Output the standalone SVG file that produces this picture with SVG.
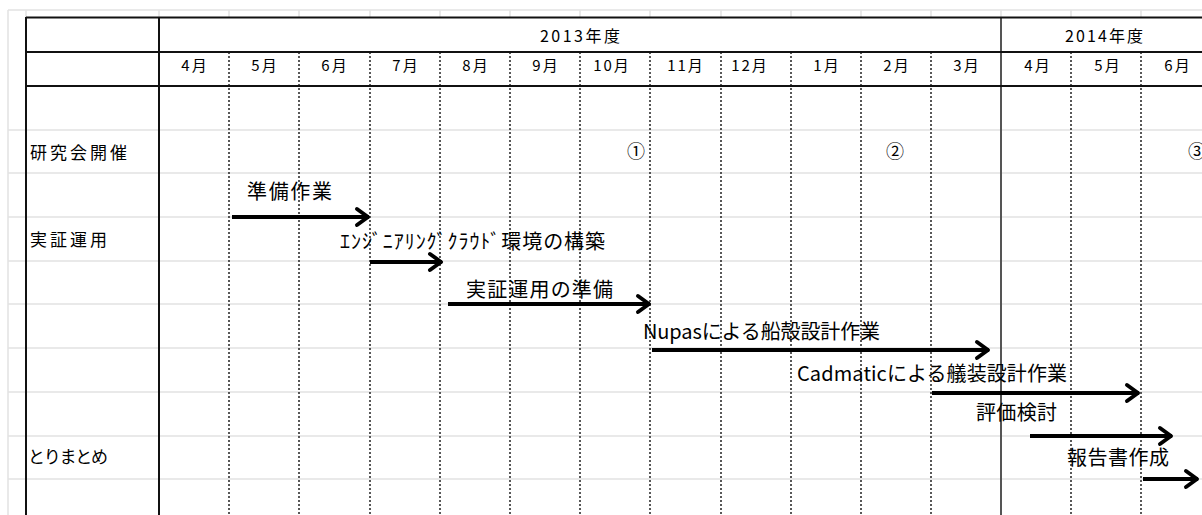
<svg xmlns="http://www.w3.org/2000/svg" width="1202" height="515" viewBox="0 0 1202 515">
<style>
.grid{stroke:#e2e2e2;stroke-width:1.5;fill:none}
.heavy{stroke:#111;stroke-width:2;fill:none}
.dot{stroke:#222;stroke-width:1.5;stroke-dasharray:2 2;fill:none}
.yr{stroke:#555;stroke-width:2;fill:none}
.arr{stroke:#000;stroke-width:4;fill:none;marker-end:url(#ah)}
text{font-family:"Noto Sans CJK JP","Noto Sans",sans-serif;fill:#000}
.hd{font-size:16px}
.mo{font-size:15px;letter-spacing:2px;text-anchor:middle}
.lb{font-size:17px}
.tk{font-size:20px}
.cn{font-size:18px;text-anchor:middle}
</style>
<defs>
<marker id="ah" markerUnits="userSpaceOnUse" markerWidth="30" markerHeight="30" refX="0" refY="0" orient="auto" overflow="visible">
<path d="M-12,-8 L-1,0 L-12,8" fill="none" stroke="#000" stroke-width="4" stroke-linejoin="round" stroke-linecap="round"/>
</marker>
</defs>
<rect width="1202" height="515" fill="#fff"/>
<g id="gridlines">
<path class="grid" d="M8,10H1202 M8,130H1202 M8,173H1202 M8,217H1202 M8,261H1202 M8,304H1202 M8,348H1202 M8,392H1202 M8,436H1202 M8,479H1202"/>
<path class="grid" d="M8,10V515 M26,10V17 M159,10V17 M229,10V17 M299,10V17 M370,10V17 M440,10V17 M510,10V17 M580,10V17 M650,10V17 M721,10V17 M791,10V17 M861,10V17 M931,10V17 M1001,10V17 M1071,10V17 M1141,10V17"/>
</g>
<g id="table">
<path class="dot" d="M229,52V515 M299,52V515 M370,52V515 M440,52V515 M510,52V515 M580,52V515 M650,52V515 M721,52V515 M791,52V515 M861,52V515 M931,52V515 M1071,52V515 M1141,52V515"/>
<path class="yr" d="M1001,17V515"/>
<path class="heavy" d="M26,17.5H1202 M26,52H1202 M26,86H1202 M26,17V515 M159,17V515"/>
</g>
<g id="header">
<text class="hd" x="540" y="42" textLength="80">2013年度</text>
<text class="hd" x="1065" y="42" textLength="78">2014年度</text>
<text class="mo" x="195" y="71">4月</text>
<text class="mo" x="265" y="71">5月</text>
<text class="mo" x="335" y="71">6月</text>
<text class="mo" x="406" y="71">7月</text>
<text class="mo" x="476" y="71">8月</text>
<text class="mo" x="546" y="71">9月</text>
<text class="mo" x="612" y="71">10月</text>
<text class="mo" x="686" y="71">11月</text>
<text class="mo" x="750" y="71">12月</text>
<text class="mo" x="827" y="71">1月</text>
<text class="mo" x="897" y="71">2月</text>
<text class="mo" x="967" y="71">3月</text>
<text class="mo" x="1038" y="71">4月</text>
<text class="mo" x="1108" y="71">5月</text>
<text class="mo" x="1178" y="71">6月</text>
</g>
<g id="row-labels">
<text class="lb" x="30" y="159" textLength="97">研究会開催</text>
<text class="lb" x="30" y="246" textLength="77">実証運用</text>
<text class="lb" x="28" y="463" textLength="80">とりまとめ</text>
</g>
<g id="meetings">
<text class="cn" x="636" y="158">①</text>
<text class="cn" x="895" y="158">②</text>
<text class="cn" x="1197" y="158">③</text>
</g>
<g id="connectors">
<line class="arr" x1="232" y1="217" x2="369" y2="217"/>
<line class="arr" x1="370" y1="262" x2="442" y2="262"/>
<line class="arr" x1="448" y1="304" x2="650" y2="304"/>
<line class="arr" x1="652" y1="350" x2="989" y2="350"/>
<line class="arr" x1="932" y1="393" x2="1139" y2="393"/>
<line class="arr" x1="1030" y1="436" x2="1172" y2="436"/>
<line class="arr" x1="1143" y1="479" x2="1198" y2="479"/>
</g>
<g id="tasks">
<text class="tk" x="247" y="199" textLength="85">準備作業</text>
<text class="tk" x="340" y="249" textLength="265">ｴﾝｼﾞﾆｱﾘﾝｸﾞｸﾗｳﾄﾞ環境の構築</text>
<text class="tk" x="466" y="297" textLength="147">実証運用の準備</text>
<text class="tk" x="643" y="339" textLength="237">Nupasによる船殻設計作業</text>
<text class="tk" x="797" y="381" textLength="270">Cadmaticによる艤装設計作業</text>
<text class="tk" x="976" y="420" textLength="81">評価検討</text>
<text class="tk" x="1067" y="465" textLength="102">報告書作成</text>
</g>
</svg>
